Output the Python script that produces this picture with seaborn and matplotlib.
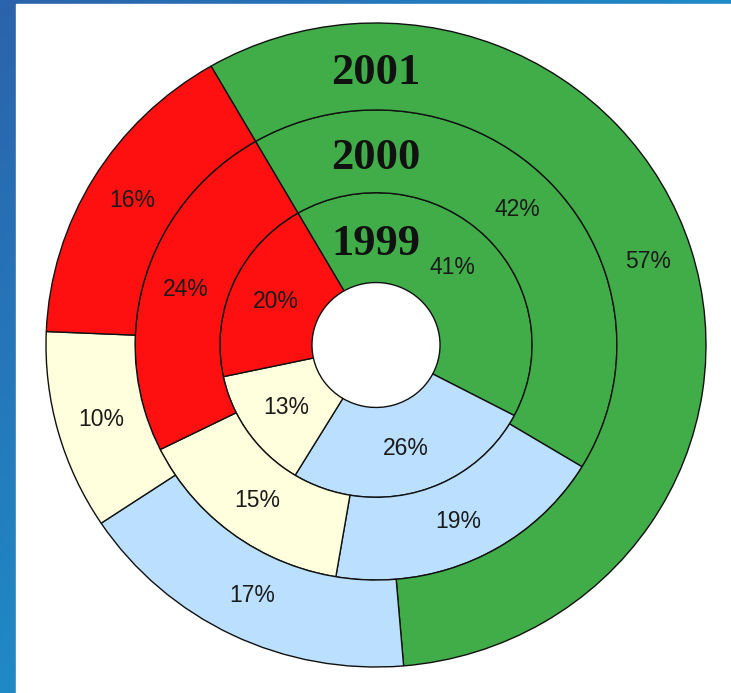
import matplotlib
matplotlib.use("Agg")
import matplotlib.pyplot as plt
import numpy as np
import seaborn as sns
from matplotlib.colors import LinearSegmentedColormap

# data
years = ["1999", "2000", "2001"]
segments = ["green", "blue", "yellow", "red"]
shares_1999 = [41, 26, 13, 20]
shares_2000 = [42, 19, 15, 24]
shares_2001 = [57, 17, 10, 16]

seg_colors = ["#41ad48", "#bbe0ff", "#ffffdd", "#ff1010"]

sns.set_theme(style="white")
plt.rcParams["font.family"] = ["Liberation Sans", "DejaVu Sans"]

W, H = 731, 693
fig = plt.figure(figsize=(W / 100, H / 100), dpi=100)

# blue gradient frame on the left and top
bg = fig.add_axes([0, 0, 1, 1])
xx, yy = np.meshgrid(np.linspace(0, 1, 200), np.linspace(0, 1, 200))
grad = np.clip((xx * W + yy * H) / 800, 0, 1)
cmap = LinearSegmentedColormap.from_list("frame", ["#2b63ac", "#1e8fca"])
bg.imshow(grad, cmap=cmap, aspect="auto", extent=[0, W, H, 0])
bg.add_patch(plt.Rectangle((16, 4), W - 16, H - 4, color="white", zorder=2))
bg.set_xlim(0, W)
bg.set_ylim(H, 0)
bg.axis("off")

# pie axes: centre (376, 345) px, radii 330 x 322 px
lim = 1.02
cx, cy, rx, ry = 376, 345, 330, 322
ax = fig.add_axes([(cx - rx * lim) / W, (H - cy - ry * lim) / H,
                   2 * rx * lim / W, 2 * ry * lim / H])

hole = 0.194
ring_outer = {"1999": 0.473, "2000": 0.730, "2001": 1.0}
ring_inner = {"1999": hole, "2000": 0.473, "2001": 0.730}
shares = {"1999": shares_1999, "2000": shares_2000, "2001": shares_2001}

for yr in years:
    r_out = ring_outer[yr]
    r_in = ring_inner[yr]
    mid = (r_out + r_in) / 2
    wedges, texts, autotexts = ax.pie(
        shares[yr], radius=r_out, colors=seg_colors, startangle=120,
        counterclock=False, autopct="%.0f%%", pctdistance=mid / r_out,
        wedgeprops=dict(width=r_out - r_in, edgecolor="#111111", linewidth=1.0),
        textprops=dict(fontsize=16.5, color="#1a1a1a"),
    )
    ax.text(0, mid - 0.02, yr, ha="center", va="center", fontsize=32,
            fontweight="bold", color="#111111",
            family=["Liberation Serif", "DejaVu Serif"])

ax.set_aspect("auto")
ax.set_xlim(-lim, lim)
ax.set_ylim(-lim, lim)
ax.axis("off")

fig.savefig("out.png", dpi=100)
